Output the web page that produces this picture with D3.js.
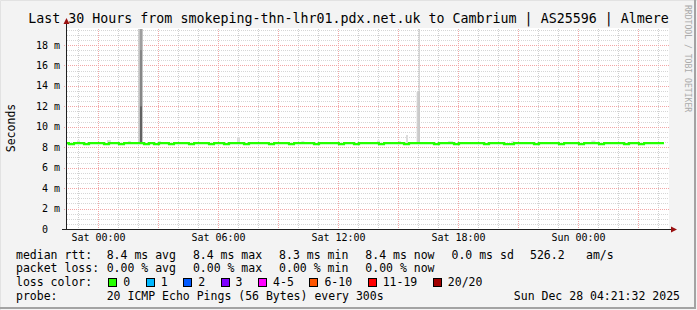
<!DOCTYPE html>
<html>
<head>
<meta charset="utf-8">
<script src="https://cdn.jsdelivr.net/npm/d3@7/dist/d3.min.js"></script>
<style>
  html, body { margin: 0; padding: 0; background: #f3f3f3; }
  svg { display: block; }
  text { font-family: "DejaVu Sans Mono", monospace; fill: #000; white-space: pre; }
</style>
</head>
<body>
<svg width="697" height="310"></svg>
<script>
/* ---------- data ---------- */
const title = "Last 30 Hours from smokeping-thn-lhr01.pdx.net.uk to Cambrium | AS25596 | Almere";
const watermark = "RRDTOOL / TOBI OETIKER";
const yLabel = "Seconds";

const viewStart = new Date(2025, 11, 26, 22, 27);
const viewEnd = new Date(2025, 11, 28, 4, 27);
const firstBin = new Date(2025, 11, 26, 22, 18);
const binMinutes = 15;

// median rtt in ms, one value per 15 minutes
const medianRtt = [
  8.4, 8.3, 8.4, 8.4, 8.3, 8.4, 8.4, 8.4, 8.3, 8.4, 8.4, 8.3,
  8.4, 8.4, 8.4, 8.4, 8.3, 8.4, 8.3, 8.4, 8.4, 8.3, 8.4, 8.4,
  8.4, 8.3, 8.4, 8.4, 8.4, 8.3, 8.4, 8.4, 8.3, 8.4, 8.4, 8.4,
  8.3, 8.4, 8.4, 8.4, 8.4, 8.3, 8.4, 8.4, 8.4, 8.3, 8.4, 8.4,
  8.4, 8.4, 8.3, 8.4, 8.4, 8.4, 8.4, 8.3, 8.4, 8.4, 8.3, 8.4,
  8.4, 8.4, 8.4, 8.3, 8.4, 8.4, 8.4, 8.4, 8.3, 8.4, 8.4, 8.4,
  8.4, 8.4, 8.3, 8.4, 8.4, 8.4, 8.3, 8.4, 8.4, 8.4, 8.4, 8.4,
  8.3, 8.4, 8.4, 8.4, 8.3, 8.3, 8.4, 8.4, 8.4, 8.4, 8.3, 8.4,
  8.4, 8.4, 8.4, 8.3, 8.4, 8.4, 8.4, 8.3, 8.4, 8.4, 8.4, 8.3,
  8.4, 8.4, 8.4, 8.4, 8.3, 8.4, 8.4, 8.3, 8.4, 8.4, 8.4, 8.4
];

// smoke layers: from, to, low ms, high ms, number of pings in layer
const smokeFrom  = ["2025-12-26T22:57", "2025-12-27T00:27", "2025-12-27T01:30", "2025-12-27T02:01", "2025-12-27T02:06", "2025-12-27T02:06", "2025-12-27T02:06", "2025-12-27T03:00", "2025-12-27T06:57", "2025-12-27T10:10", "2025-12-27T13:57", "2025-12-27T15:03", "2025-12-27T15:24", "2025-12-27T15:56", "2025-12-27T16:02", "2025-12-27T17:30", "2025-12-27T20:40", "2025-12-28T00:40"];
const smokeTo    = ["2025-12-26T23:06", "2025-12-27T00:39", "2025-12-27T01:39", "2025-12-27T02:14", "2025-12-27T02:13", "2025-12-27T02:12", "2025-12-27T02:12", "2025-12-27T03:09", "2025-12-27T07:06", "2025-12-27T10:19", "2025-12-27T14:06", "2025-12-27T15:09", "2025-12-27T15:30", "2025-12-27T16:06", "2025-12-27T16:05", "2025-12-27T17:45", "2025-12-27T20:49", "2025-12-28T00:52"];
const smokeLow   = [8.45, 8.45, 8.45, 8.45, 8.45, 8.45, 8.45, 8.45, 8.45, 8.45, 8.45, 8.45, 8.45, 8.45, 8.45, 8.45, 8.45, 8.45];
const smokeHigh  = [8.65, 8.7, 8.6, 19.8, 19.8, 17.5, 12.0, 8.6, 9.0, 8.6, 8.65, 8.6, 9.2, 13.4, 19.8, 8.6, 8.6, 8.65];
const smokePings = [1, 1, 1, 3, 6, 8, 11, 1, 1, 1, 1, 1, 1, 2, 3, 1, 1, 1];

const yTicks = [0, 2, 4, 6, 8, 10, 12, 14, 16, 18];
const yMax = 19.57;

const rttLabel = "median rtt:";
const rttStats = ["8.4 ms avg", "8.4 ms max", "8.3 ms min", "8.4 ms now", "0.0 ms sd"];
const rttExtra = ["526.2", "am/s"];
const lossLabel = "packet loss:";
const lossStats = ["0.00 % avg", "0.00 % max", "0.00 % min", "0.00 % now"];
const colorLabel = "loss color:";
const lossNames = ["0", "1", "2", "3", "4-5", "6-10", "11-19", "20/20"];
const lossColors = ["#26ff00", "#00b8ff", "#0059ff", "#7e00ff", "#ff00ff", "#ff5500", "#ff0000", "#a10000"];
const probeLabel = "probe:";
const probeText = "20 ICMP Echo Pings (56 Bytes) every 300s";
const stamp = "Sun Dec 28 04:21:32 2025";

/* ---------- layout ---------- */
const W = 697, H = 310;
const pLeft = 67, pRight = 667, pTop = 29, pBottom = 229;
const charW = 6.94;

const svg = d3.select("svg");

// frame
svg.append("rect").attr("width", W).attr("height", H).attr("fill", "#f3f3f3");
svg.append("path").attr("d", `M0.5,${H} V0.5 H${W}`).attr("stroke", "#e2e2e2").attr("fill", "none");
svg.append("path").attr("d", `M${W - 2},0 V${H - 2} H0`).attr("stroke", "#a3a3a3").attr("stroke-width", 2).attr("fill", "none");

// canvas
svg.append("rect").attr("x", pLeft).attr("y", pTop - 1).attr("width", pRight - pLeft + 2).attr("height", pBottom - pTop + 1).attr("fill", "#fff");

const x = d3.scaleTime().domain([viewStart, viewEnd]).range([pLeft, pRight]);
const y = d3.scaleLinear().domain([0, yMax]).range([pBottom, pTop]);

svg.append("defs").append("clipPath").attr("id", "plot")
  .append("rect").attr("x", pLeft).attr("y", pTop).attr("width", pRight - pLeft).attr("height", pBottom - pTop);

/* grid */
const grid = svg.append("g");
const minorY = d3.range(0.5, yMax, 0.5).filter(v => v % 2 !== 0);
grid.selectAll(".hmin").data(minorY).enter().append("line")
  .attr("x1", pLeft).attr("x2", pRight + 2)
  .attr("y1", d => Math.round(y(d)) + 0.5).attr("y2", d => Math.round(y(d)) + 0.5)
  .attr("stroke", "#d6d6d6").attr("stroke-dasharray", "1,1");

const hours = d3.timeHour.every(1).range(viewStart, viewEnd);
grid.selectAll(".vmin").data(hours.filter(d => d.getHours() % 3 !== 0)).enter().append("line")
  .attr("x1", d => Math.round(x(d)) + 0.5).attr("x2", d => Math.round(x(d)) + 0.5)
  .attr("y1", pTop).attr("y2", pBottom)
  .attr("stroke", "#cfcfcf").attr("stroke-dasharray", "1,1");

grid.selectAll(".vmaj").data(hours.filter(d => d.getHours() % 3 === 0)).enter().append("line")
  .attr("x1", d => Math.round(x(d)) + 0.5).attr("x2", d => Math.round(x(d)) + 0.5)
  .attr("y1", pTop).attr("y2", pBottom + 2)
  .attr("stroke", "#f2a6a6").attr("stroke-dasharray", "1,1");

grid.selectAll(".hmaj").data(yTicks.slice(1)).enter().append("line")
  .attr("x1", pLeft - 3).attr("x2", pRight + 2)
  .attr("y1", d => Math.round(y(d)) + 0.5).attr("y2", d => Math.round(y(d)) + 0.5)
  .attr("stroke", "#f2a6a6").attr("stroke-dasharray", "1,1");

/* smoke */
const shade = d3.scaleLinear().domain([1, 12]).range(["#dcdcdc", "#555555"]).clamp(true);
const parse = d3.timeParse("%Y-%m-%dT%H:%M");
const smoke = smokeFrom.map((f, i) => ({
  from: parse(f), to: parse(smokeTo[i]), lo: smokeLow[i], hi: smokeHigh[i], n: smokePings[i]
}));
svg.append("g").attr("clip-path", "url(#plot)")
  .selectAll("rect").data(smoke).enter().append("rect")
  .attr("x", d => x(d.from))
  .attr("width", d => Math.max(1, x(d.to) - x(d.from)))
  .attr("y", d => y(d.hi))
  .attr("height", d => y(d.lo) - y(d.hi))
  .attr("fill", d => shade(d.n));

/* median line */
const pts = medianRtt.map((v, i) => ({ t: d3.timeMinute.offset(firstBin, i * binMinutes), v }));
pts.push({ t: d3.timeMinute.offset(firstBin, medianRtt.length * binMinutes), v: medianRtt[medianRtt.length - 1] });
svg.append("path").datum(pts)
  .attr("clip-path", "url(#plot)")
  .attr("d", d3.line().x(d => x(d.t)).y(d => y(d.v)).curve(d3.curveStepAfter))
  .attr("fill", "none").attr("stroke", lossColors[0]).attr("stroke-width", 2.2);

/* axes */
const axisColor = "#202020", arrowColor = "#9a1010";
svg.append("line").attr("x1", pLeft - 0.5).attr("x2", pLeft - 0.5).attr("y1", pBottom + 1).attr("y2", 23)
  .attr("stroke", axisColor);
svg.append("path").attr("d", `M${pLeft - 0.5},18 L${pLeft - 3.5},24 L${pLeft + 2.5},24 Z`).attr("fill", arrowColor);
svg.append("line").attr("x1", pLeft - 5).attr("x2", pRight + 5).attr("y1", pBottom + 0.5).attr("y2", pBottom + 0.5)
  .attr("stroke", axisColor);
svg.append("path").attr("d", `M${pRight + 10},${pBottom + 0.5} L${pRight + 4},${pBottom - 2.5} L${pRight + 4},${pBottom + 3.5} Z`).attr("fill", arrowColor);

// y tick labels
svg.append("g").selectAll("text").data(yTicks).enter().append("text")
  .attr("x", 60).attr("y", d => y(d) + 3.5)
  .attr("text-anchor", "end").attr("font-size", "10px")
  .text(d => d === 0 ? "0  " : `${d} m`);

// x tick labels
const xLabels = hours.filter(d => d.getHours() % 6 === 0);
svg.append("g").selectAll("text").data(xLabels).enter().append("text")
  .attr("x", d => x(d) + 0.5).attr("y", 240.5)
  .attr("text-anchor", "middle").attr("font-size", "10px")
  .text(d3.timeFormat("%a %H:%M"));

/* titles */
svg.append("text").attr("x", W / 2).attr("y", 23).attr("text-anchor", "middle")
  .attr("font-size", "13.3px").text(title);
svg.append("text").attr("transform", "translate(15,128) rotate(-90)").attr("text-anchor", "middle")
  .attr("font-size", "11.5px").text(yLabel);
svg.append("text").attr("transform", "translate(684.5,5) rotate(90)")
  .attr("font-size", "8.1px").style("fill", "#aaaaaa").text(watermark);

/* legend */
const leg = svg.append("g").attr("font-size", "11.5px");
const col0 = 16, col1 = 106.7, colStep = 86.2;
const rows = [258.5, 272, 286, 300];

leg.append("text").attr("x", col0).attr("y", rows[0]).text(rttLabel);
leg.selectAll(".rtt").data(rttStats).enter().append("text")
  .attr("x", (d, i) => col1 + i * colStep).attr("y", rows[0]).text(d => d);
leg.append("text").attr("x", 530).attr("y", rows[0]).text(rttExtra[0]);
leg.append("text").attr("x", 586).attr("y", rows[0]).text(rttExtra[1]);

leg.append("text").attr("x", col0).attr("y", rows[1]).text(lossLabel);
leg.selectAll(".loss").data(lossStats).enter().append("text")
  .attr("x", (d, i) => col1 + i * colStep).attr("y", rows[1]).text(d => d);

leg.append("text").attr("x", col0).attr("y", rows[2]).text(colorLabel);
let sx = 108.3;
lossNames.forEach((name, i) => {
  leg.append("rect").attr("x", Math.round(sx) + 0.5).attr("y", 278.5).attr("width", 8).attr("height", 8)
    .attr("fill", lossColors[i]).attr("stroke", "#000");
  leg.append("text").attr("x", sx + 15).attr("y", rows[2]).text(name);
  sx = sx + 15 + name.length * charW + 15.5;
});

leg.append("text").attr("x", col0).attr("y", rows[3]).text(probeLabel);
leg.append("text").attr("x", col1).attr("y", rows[3]).text(probeText);
leg.append("text").attr("x", 680).attr("y", rows[3]).attr("text-anchor", "end").text(stamp);
</script>
</body>
</html>
